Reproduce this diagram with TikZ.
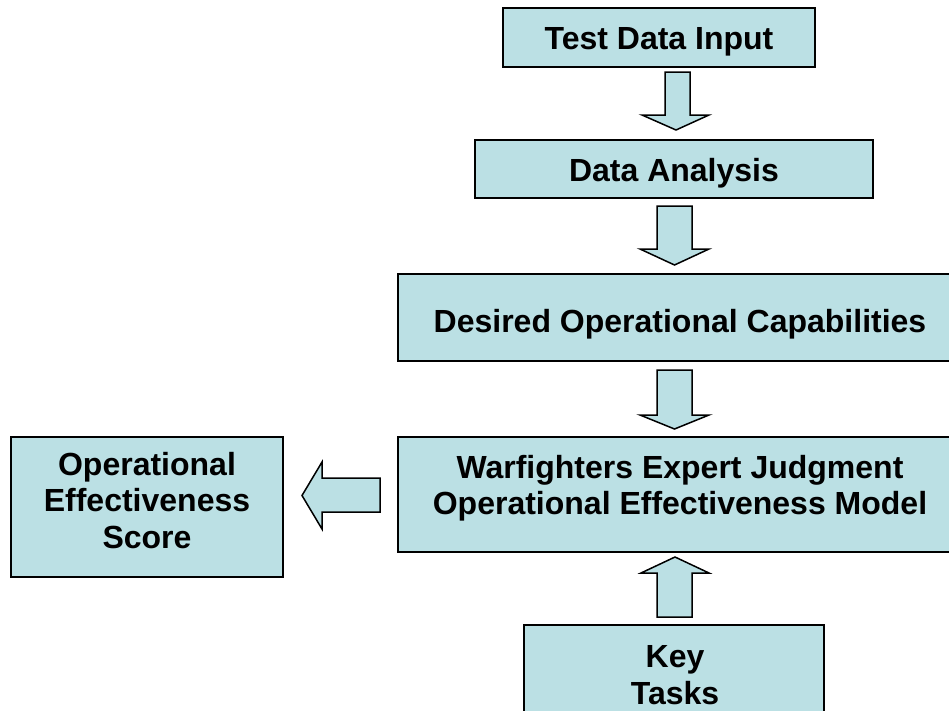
\documentclass[tikz,border=0pt]{standalone}
\usepackage{fontspec}
\setmainfont{Liberation Sans}
\definecolor{boxfill}{RGB}{187,224,228}
\begin{document}
\begin{tikzpicture}[x=1pt,y=-1pt,
  box/.style={draw=black, line width=1.5pt, fill=boxfill, rectangle, inner sep=0pt},
  lbl/.style={font=\fontsize{32}{36.5}\selectfont\bfseries, align=center, inner sep=0pt, text=black},
  blockarrow/.style={draw=black, line width=1.5pt, fill=boxfill, line join=miter}]
\useasboundingbox (0,0) rectangle (949,710);
\clip (0,0) rectangle (949,710);
\fill[white] (0,0) rectangle (949,710);
% boxes
\node[box, minimum width=312pt, minimum height=59pt] (tdi) at (659,37.5) {};
\node[box, minimum width=398pt, minimum height=58pt] (da) at (674,169) {};
\node[box, minimum width=602pt, minimum height=87pt] (doc) at (699,317.5) {};
\node[box, minimum width=602pt, minimum height=115pt] (wej) at (699,494.5) {};
\node[box, minimum width=272pt, minimum height=140pt] (oes) at (147,507) {};
\node[box, minimum width=300pt, minimum height=135pt] (kt) at (674,692.5) {};
% labels
\node[lbl, anchor=base] (tdil) at (659,49.5) {Test Data Input};
\node[lbl, anchor=base] (dal) at (674,181) {Data Analysis};
\node[lbl, anchor=base] (docl) at (680,332.5) {Desired Operational Capabilities};
\node[lbl] (wejl) at (680,488.4) {Warfighters Expert Judgment\\Operational Effectiveness Model};
\node[lbl] (oesl) at (147,500.5) {Operational\\Effectiveness\\Score};
\node[lbl] (ktl) at (675,675.2) {Key\\Tasks};
% block arrows
\draw[blockarrow] (665,72) -- (690,72) -- (690,115) -- (709,115) -- (676,130) -- (642,115) -- (665,115) -- cycle;
\draw[blockarrow] (657,206) -- (692,206) -- (692,249) -- (709,249) -- (674.5,265) -- (640,249) -- (657,249) -- cycle;
\draw[blockarrow] (657,370) -- (692,370) -- (692,415) -- (709,415) -- (674.5,429) -- (640,415) -- (657,415) -- cycle;
\draw[blockarrow] (657,617) -- (692,617) -- (692,573) -- (709,573) -- (675,557) -- (641,573) -- (657,573) -- cycle;
\draw[blockarrow] (380,478) -- (380,512) -- (322,512) -- (322,529) -- (302,495.5) -- (322,462) -- (322,478) -- cycle;
\end{tikzpicture}
\end{document}
